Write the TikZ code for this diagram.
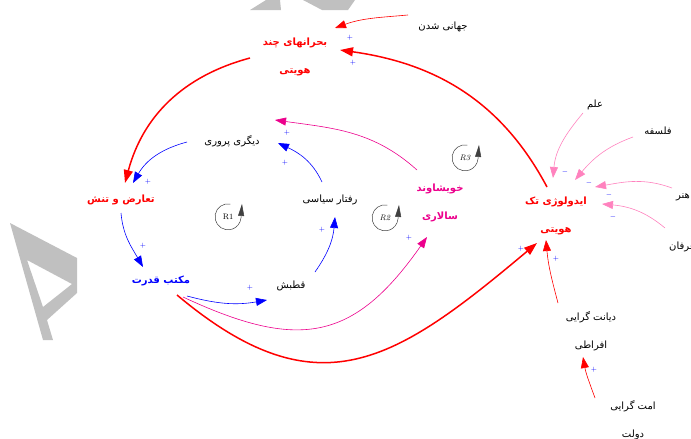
\documentclass[tikz,border=0pt]{standalone}
\usepackage{fontspec}
\newfontfamily\persianfont[Script=Arabic]{DejaVu Sans}
\TeXXeTstate=1
\usetikzlibrary{arrows.meta, calc}
\definecolor{linkpink}{RGB}{255,130,190}
\definecolor{wmgray}{RGB}{192,192,192}
\newcommand{\fatxt}[1]{\beginR #1\endR}

\begin{document}
\begin{tikzpicture}[
    x=1pt, y=1pt,
    lbl/.style={font=\persianfont\fontsize{10}{28}\selectfont, align=center, inner sep=1pt},
    keylbl/.style={font=\persianfont\bfseries\fontsize{10}{28}\selectfont, align=center, inner sep=1pt},
    link/.style={-{Triangle[length=11pt,width=8pt]}, line width=0.6pt},
    strong/.style={-{Triangle[length=13pt,width=9pt]}, line width=1.5pt, red},
    sign/.style={font=\scriptsize, text=blue, inner sep=0pt},
    loopmark/.style={circle, minimum size=26pt, inner sep=0pt, font=\footnotesize},
    looparrow/.style={-{Triangle[length=12pt,width=6pt]}, line width=0.5pt, black!75}
]
\useasboundingbox (0,0) rectangle (691,-439);

% watermark
\fill[wmgray, even odd rule] (10,-223) -- (77,-258) -- (77,-293) -- (47,-320) -- (53,-340) -- (43,-340) -- cycle
    (27,-260) -- (72,-284) -- (43,-307) -- cycle;
\fill[wmgray] (250,-10) -- (266,0) -- (280,0) -- (281,-10) -- cycle;
\fill[wmgray] (303,0) -- (355,0) -- (348,-10) -- (322,-10) -- cycle;

% variables
\node[lbl] (glob) at (443,-27) {\fatxt{جهانی شدن}};
\node[keylbl, red] (crisis) at (295,-57) {\fatxt{بحرانهای چند}\\\fatxt{هویتی}};
\node[lbl] (other) at (232,-141) {\fatxt{دیگری پروری}};
\node[keylbl, red] (confl) at (121,-200) {\fatxt{تعارض و تنش}};
\node[keylbl, blue] (power) at (161,-281) {\fatxt{مکتب قدرت}};
\node[lbl] (polar) at (291,-286) {\fatxt{قطبش}};
\node[lbl] (polit) at (330,-200) {\fatxt{رفتار سیاسی}};
\node[keylbl, magenta] (nepot) at (440,-203) {\fatxt{خویشاوند}\\\fatxt{سالاری}};
\node[keylbl, red] (ideo) at (556,-216) {\fatxt{ایدولوژی تک}\\\fatxt{هویتی}};
\node[lbl] (sci) at (595,-105) {\fatxt{علم}};
\node[lbl] (phil) at (658,-131) {\fatxt{فلسفه}};
\node[lbl, anchor=west] (art) at (675,-197) {\fatxt{هنر}};
\node[lbl, anchor=west] (myst) at (668,-247) {\fatxt{عرفان}};
\node[lbl] (belief) at (591,-331) {\fatxt{دیانت گرایی}\\\fatxt{افراطی}};
\node[lbl] (umma) at (633,-420) {\fatxt{امت گرایی}\\\fatxt{دولت}};

% causal links
\draw[link, red] ($(glob)+(-35,12)$) to[out=185, in=20] ($(crisis)+(40,29)$);
\draw[strong] ($(ideo)+(-9,29)$) to[out=118, in=-8] ($(crisis)+(45,7)$);
\draw[strong] ($(crisis)+(-45,-1)$) to[out=195, in=75] ($(confl)+(4,17)$);
\draw[link, blue] ($(other)+(-45,-1)$) to[out=195, in=60] ($(confl)+(12,17)$);
\draw[link, blue] ($(confl)+(0,-13)$) to[out=-85, in=120] ($(power)+(-18,14)$);
\draw[link, blue] ($(power)+(26,-15)$) to[out=-15, in=190] ($(polar)+(-24,-14)$);
\draw[link, blue] ($(polar)+(24,14)$) to[out=55, in=-95] ($(polit)+(5,-17)$);
\draw[link, blue] ($(polit)+(-8,18)$) to[out=115, in=-25] ($(other)+(46,-2)$);
\draw[link, magenta] ($(nepot)+(-23,33)$) to[out=138, in=-8] ($(other)+(43,21)$);
\draw[link, magenta] ($(power)+(22,-16)$) to[out=-25, in=235, looseness=1.3] ($(nepot)+(-13,-34)$);
\draw[strong] ($(power)+(16,-14)$) to[out=-40, in=220, looseness=1.3] ($(ideo)+(-19,-27)$);
\draw[link, red] ($(belief)+(-33,28)$) to[out=105, in=-85] ($(ideo)+(-10,-24)$);
\draw[link, red] ($(umma)+(-38,22)$) to[out=110, in=-80] ($(belief)+(-8,-26)$);
\draw[link, linkpink] ($(sci)+(-12,-8)$) to[out=230, in=85] ($(ideo)+(-3,38)$);
\draw[link, linkpink] ($(phil)+(-25,-6)$) to[out=200, in=50] ($(ideo)+(19,36)$);
\draw[link, linkpink] ($(art.west)+(-3,9)$) to[out=160, in=10] ($(ideo)+(39,29)$);
\draw[link, linkpink] ($(myst.west)+(-3,19)$) to[out=140, in=-5] ($(ideo)+(46,12)$);

% polarity signs
\foreach \n/\x/\y in {1/350/-38, 2/353/-63, 3/148/-182, 4/143/-246, 5/250/-288, 6/322/-230,
    7/285/-163, 8/287/-133, 9/409/-238, 10/521/-249, 11/556/-259, 12/594/-370}
    \node[sign] (plus\n) at (\x,\y) {$+$};
\foreach \n/\x/\y in {1/565/-172, 2/589/-183, 3/609/-195, 4/613/-217}
    \node[sign] (minus\n) at (\x,\y) {$-$};

% loops
\node[loopmark] (r1) at (228,-217) {R1};
\node[loopmark] (r2) at (385,-218) {\textit{R2}};
\node[loopmark] (r3) at (465,-158) {\textit{R3}};
\foreach \r in {r1,r2,r3}
    \draw[looparrow] (\r.80) arc[start angle=80, end angle=355, radius=13pt] -- ++(1,14);
\end{tikzpicture}
\end{document}
